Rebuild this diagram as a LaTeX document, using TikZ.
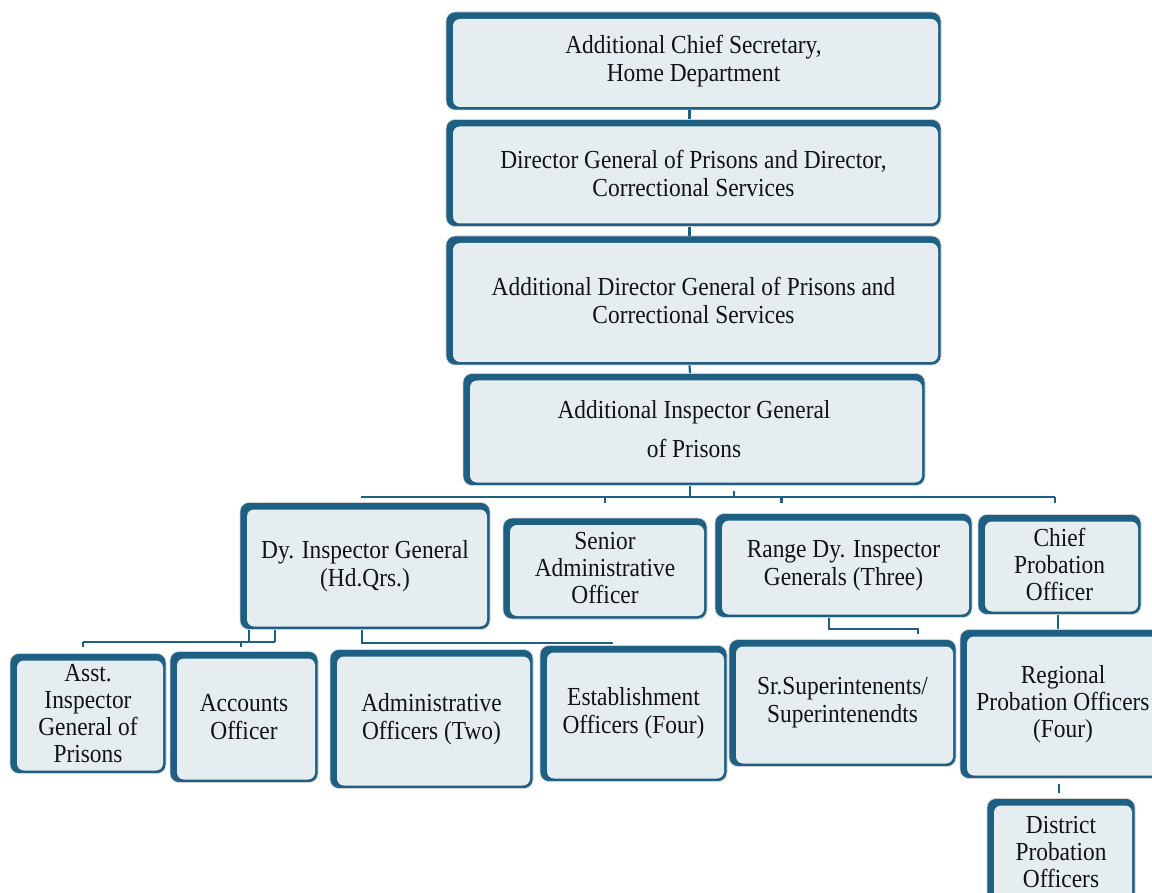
\documentclass[tikz,border=0pt]{standalone}
\usepackage{fontspec}
\setmainfont[FakeStretch=0.9]{Liberation Serif}
\definecolor{dk}{RGB}{29,96,131}
\definecolor{lt}{RGB}{230,237,241}
\definecolor{txt}{RGB}{18,18,18}
\tikzset{
  box/.style={rounded corners=9pt, fill=dk, draw=black!18, line width=0.7pt,
    inner sep=0pt, align=center, text=txt,
    font=\fontsize{26}{28}\selectfont,
    path picture={\fill[lt, rounded corners=7pt]
      ([xshift=7pt,yshift=-7pt]path picture bounding box.north west) rectangle
      ([xshift=-3pt,yshift=3pt]path picture bounding box.south east);}},
  conn/.style={draw=dk, line width=2.2pt}
}
\begin{document}
\begin{tikzpicture}[x=1pt,y=-1pt]
\useasboundingbox (0,0) rectangle (1152,893);
% level 0-3
\node[box, minimum width=495pt, minimum height=98pt] (acs) at (693.5,61) {Additional Chief Secretary,\\Home Department};
\node[box, minimum width=495pt, minimum height=107pt] (dg) at (693.5,173) {Director General of Prisons and Director,\\Correctional Services};
\node[box, minimum width=495pt, minimum height=129pt] (adg) at (693.5,300.5) {Additional Director General of Prisons and\\Correctional Services};
\node[box, minimum width=462pt, minimum height=112pt, font=\fontsize{26}{39}\selectfont] (aig) at (694,429.5) {Additional Inspector General\\of Prisons};
% level 4
\node[box, minimum width=250pt, minimum height=127pt] (dig) at (365,566) {Dy. Inspector General\\(Hd.Qrs.)};
\node[box, minimum width=204pt, minimum height=101pt, font=\fontsize{26}{27}\selectfont] (sao) at (605,568.5) {Senior\\Administrative\\Officer};
\node[box, minimum width=257pt, minimum height=104pt] (rdig) at (843.5,565.5) {Range Dy. Inspector\\Generals (Three)};
\node[box, minimum width=163pt, minimum height=100pt, font=\fontsize{26}{27}\selectfont] (cpo) at (1059.5,564.5) {Chief\\Probation\\Officer};
% level 5
\node[box, minimum width=156pt, minimum height=120pt, font=\fontsize{26}{27}\selectfont] (aigp) at (88,713.5) {Asst.\\Inspector\\General of\\Prisons};
\node[box, minimum width=148pt, minimum height=131pt] (acc) at (244,717) {Accounts\\Officer};
\node[box, minimum width=203pt, minimum height=139pt] (ado) at (431.5,719) {Administrative\\Officers (Two)};
\node[box, minimum width=187pt, minimum height=136pt] (est) at (633.5,713.5) {Establishment\\Officers (Four)};
\node[box, minimum width=227pt, minimum height=127pt] (sup) at (842.5,703) {Sr.Superintenents/\\Superintenendts};
\node[box, minimum width=206pt, minimum height=149pt, font=\fontsize{26}{27}\selectfont] (rpo) at (1063,704) {Regional\\Probation Officers\\(Four)};
\node[box, minimum width=148pt, minimum height=107pt, font=\fontsize{26}{27}\selectfont] (dpo) at (1061,852) {District\\Probation\\Officers};
% connectors, top chain
\draw[conn] ([xshift=-4pt]acs.south) -- ([xshift=-4pt]dg.north);
\draw[conn] ([xshift=-4pt]dg.south) -- ([xshift=-4pt]adg.north);
\draw[conn] ([xshift=-4pt]adg.south) -- ([xshift=-4pt]aig.north);
% bus under AIG
\coordinate (busL) at (361,497);
\coordinate (busR) at (1055,497);
\draw[conn] (busL) -- (busR);
\draw[conn] ([xshift=-4pt]aig.south) -- ([xshift=-4pt]aig.south |- busL);
\draw[conn] ([xshift=40pt,yshift=-5pt]aig.south) -- ([xshift=40pt]aig.south |- busL);
\draw[conn] (sao.north |- busL) -- ++(0,6);
\draw[conn] ([xshift=-62pt]rdig.north |- busL) -- ++(0,6);
\draw[conn] (busR) -- ++(0,6);
% under Dy IG HQ
\coordinate (dl) at (83,642);
\coordinate (dr) at (275,642);
\draw[conn] (dl) -- (dr);
\draw[conn] (dr) -- (dr |- dig.south);
\draw[conn] ([xshift=9pt]dig.south west) -- ([xshift=9pt]dig.south west |- dl);
\draw[conn] (dl) -- ++(0,5);
\draw[conn] ([xshift=-34pt]dr) -- ++(0,5);
\coordinate (ml) at (362,643);
\coordinate (mr) at (613,643);
\draw[conn] (ml |- dig.south) -- (ml) -- (mr);
% under Range DIG
\coordinate (rl) at (829,629);
\coordinate (rr) at (918,629);
\draw[conn] (rl |- rdig.south) -- (rl) -- (rr) -- ++(0,5);
% probation chain
\draw[conn] ([xshift=-1.5pt]cpo.south) -- ([xshift=-5pt]rpo.north);
\draw[conn] ([xshift=-4pt,yshift=-5pt]rpo.south) -- ([xshift=-2pt,yshift=5pt]dpo.north);
\end{tikzpicture}
\end{document}
